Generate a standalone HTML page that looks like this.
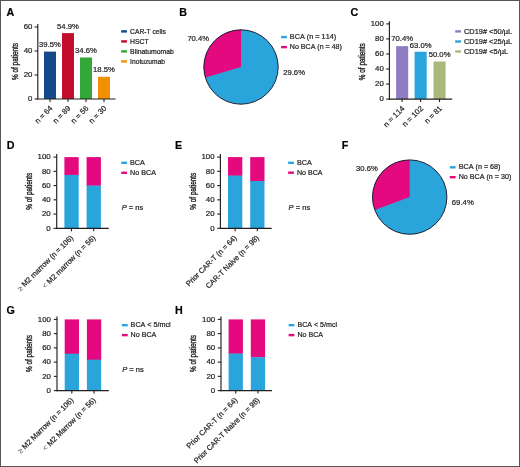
<!DOCTYPE html>
<html><head><meta charset="utf-8"><title>Figure</title>
<style>
html,body{margin:0;padding:0;background:#fff;}
#fig{position:relative;width:520px;height:467px;overflow:hidden;background:#fff;}
#fig svg{position:absolute;left:0;top:0;display:block;font-family:"Liberation Sans",sans-serif;fill:#231f20;}
#fig svg text{stroke:#231f20;stroke-width:0.22px;font-kerning:none;}
#fig svg text.yl{stroke-width:0.38px;}
#fig svg tspan.sym{stroke-width:0;fill:#444;}
#frame{position:absolute;left:0;top:0;width:518px;height:465px;border:1px solid #555;}
</style></head><body>
<div id="fig">
<svg width="520" height="467" viewBox="0 0 520 467">
<text x="6.5" y="15.8" font-size="10.7" fill="#000" font-weight="bold">A</text>
<text x="179.2" y="15.6" font-size="10.7" fill="#000" font-weight="bold">B</text>
<text x="350.5" y="16" font-size="10.7" fill="#000" font-weight="bold">C</text>
<text x="6.7" y="149.4" font-size="10.7" fill="#000" font-weight="bold">D</text>
<text x="175.1" y="149.1" font-size="10.7" fill="#000" font-weight="bold">E</text>
<text x="341.8" y="149.1" font-size="10.7" fill="#000" font-weight="bold">F</text>
<text x="6.5" y="314.2" font-size="10.7" fill="#000" font-weight="bold">G</text>
<text x="175.1" y="313.9" font-size="10.7" fill="#000" font-weight="bold">H</text>
<rect x="44.00" y="51.60" width="12.00" height="47.40" fill="#15498a"/>
<text x="50" y="46.8" font-size="7.6" text-anchor="middle" textLength="21.8" lengthAdjust="spacingAndGlyphs">39.5%</text>
<rect x="62.00" y="33.12" width="12.00" height="65.88" fill="#c40d2d"/>
<text x="68" y="28.5" font-size="7.6" text-anchor="middle" textLength="21.8" lengthAdjust="spacingAndGlyphs">54.9%</text>
<rect x="80.00" y="57.48" width="12.00" height="41.52" fill="#33a738"/>
<text x="86" y="52.7" font-size="7.6" text-anchor="middle" textLength="21.8" lengthAdjust="spacingAndGlyphs">34.6%</text>
<rect x="98.00" y="76.80" width="12.00" height="22.20" fill="#f29105"/>
<text x="104" y="72.0" font-size="7.6" text-anchor="middle" textLength="21.8" lengthAdjust="spacingAndGlyphs">18.5%</text>
<line x1="37.80" y1="24.00" x2="37.80" y2="99.55" stroke="#231f20" stroke-width="1.15"/>
<line x1="37.25" y1="99.00" x2="115.60" y2="99.00" stroke="#231f20" stroke-width="1.15"/>
<line x1="34.60" y1="99.00" x2="37.80" y2="99.00" stroke="#231f20" stroke-width="1.1"/>
<text x="32.4" y="101.35" font-size="7.5" text-anchor="end" textLength="4.37" lengthAdjust="spacingAndGlyphs">0</text>
<line x1="34.60" y1="75.00" x2="37.80" y2="75.00" stroke="#231f20" stroke-width="1.1"/>
<text x="32.4" y="77.35" font-size="7.5" text-anchor="end" textLength="8.74" lengthAdjust="spacingAndGlyphs">20</text>
<line x1="34.60" y1="51.00" x2="37.80" y2="51.00" stroke="#231f20" stroke-width="1.1"/>
<text x="32.4" y="53.35" font-size="7.5" text-anchor="end" textLength="8.74" lengthAdjust="spacingAndGlyphs">40</text>
<line x1="34.60" y1="27.00" x2="37.80" y2="27.00" stroke="#231f20" stroke-width="1.1"/>
<text x="32.4" y="29.35" font-size="7.5" text-anchor="end" textLength="8.74" lengthAdjust="spacingAndGlyphs">60</text>
<line x1="50.00" y1="99.00" x2="50.00" y2="102.00" stroke="#231f20" stroke-width="1.1"/>
<line x1="68.00" y1="99.00" x2="68.00" y2="102.00" stroke="#231f20" stroke-width="1.1"/>
<line x1="86.00" y1="99.00" x2="86.00" y2="102.00" stroke="#231f20" stroke-width="1.1"/>
<line x1="104.00" y1="99.00" x2="104.00" y2="102.00" stroke="#231f20" stroke-width="1.1"/>
<text x="18.4" y="61.5" font-size="8.8" text-anchor="middle" transform="rotate(-90 18.4 61.5)" textLength="37" lengthAdjust="spacingAndGlyphs" class="yl">% of patients</text>
<text x="53.1" y="108.8" font-size="7.6" text-anchor="end" transform="rotate(-45 53.1 108.8)" textLength="21.33" lengthAdjust="spacingAndGlyphs">n = 64</text>
<text x="71.1" y="108.8" font-size="7.6" text-anchor="end" transform="rotate(-45 71.1 108.8)" textLength="21.33" lengthAdjust="spacingAndGlyphs">n = 89</text>
<text x="89.1" y="108.8" font-size="7.6" text-anchor="end" transform="rotate(-45 89.1 108.8)" textLength="21.33" lengthAdjust="spacingAndGlyphs">n = 56</text>
<text x="107.1" y="108.8" font-size="7.6" text-anchor="end" transform="rotate(-45 107.1 108.8)" textLength="21.33" lengthAdjust="spacingAndGlyphs">n = 30</text>
<rect x="121.20" y="30.20" width="5.80" height="2.40" fill="#15498a"/>
<text x="130.1" y="33.5" font-size="6.8" textLength="35.8" lengthAdjust="spacingAndGlyphs">CAR-T cells</text>
<rect x="121.20" y="40.20" width="5.80" height="2.40" fill="#c40d2d"/>
<text x="130.1" y="43.5" font-size="6.8" textLength="18.6" lengthAdjust="spacingAndGlyphs">HSCT</text>
<rect x="121.20" y="50.20" width="5.80" height="2.40" fill="#33a738"/>
<text x="130.1" y="53.5" font-size="6.8" textLength="43.7" lengthAdjust="spacingAndGlyphs">Blinatumomab</text>
<rect x="121.20" y="60.20" width="5.80" height="2.40" fill="#f29105"/>
<text x="130.1" y="63.5" font-size="6.8" textLength="35" lengthAdjust="spacingAndGlyphs">Inotuzumab</text>
<circle cx="241.0" cy="67.0" r="37.2" fill="#2aa5dc"/>
<path d="M241.0 67.0 L241.0 29.799999999999997 A37.2 37.2 0 0 0 205.34 77.60 Z" fill="#e5097f"/>
<circle cx="241.0" cy="67.0" r="37.2" fill="none" stroke="#16162a" stroke-width="0.95"/>
<text x="187.4" y="40.9" font-size="7.6" textLength="21.6" lengthAdjust="spacingAndGlyphs">70.4%</text>
<text x="283.2" y="74.9" font-size="7.6" textLength="21.8" lengthAdjust="spacingAndGlyphs">29.6%</text>
<rect x="281.10" y="35.90" width="5.80" height="2.40" fill="#2aa5dc"/>
<text x="289.8" y="39.2" font-size="7.1" textLength="46.4" lengthAdjust="spacingAndGlyphs">BCA (n = 114)</text>
<rect x="281.10" y="45.90" width="5.80" height="2.40" fill="#e5097f"/>
<text x="289.8" y="49.2" font-size="7.1" textLength="52.1" lengthAdjust="spacingAndGlyphs">No BCA (n = 48)</text>
<rect x="396.10" y="46.16" width="12.10" height="52.94" fill="#8f7cc3"/>
<text x="402.20000000000005" y="41.0" font-size="7.6" text-anchor="middle" textLength="21.8" lengthAdjust="spacingAndGlyphs">70.4%</text>
<rect x="414.60" y="51.72" width="12.10" height="47.38" fill="#2aa5dc"/>
<text x="420.70000000000005" y="47.5" font-size="7.6" text-anchor="middle" textLength="21.8" lengthAdjust="spacingAndGlyphs">63.0%</text>
<rect x="433.50" y="61.50" width="12.10" height="37.60" fill="#a9b97c"/>
<text x="439.6" y="56.9" font-size="7.6" text-anchor="middle" textLength="21.8" lengthAdjust="spacingAndGlyphs">50.0%</text>
<line x1="389.40" y1="21.30" x2="389.40" y2="99.65" stroke="#231f20" stroke-width="1.15"/>
<line x1="388.85" y1="99.10" x2="452.20" y2="99.10" stroke="#231f20" stroke-width="1.15"/>
<line x1="386.20" y1="99.10" x2="389.40" y2="99.10" stroke="#231f20" stroke-width="1.1"/>
<text x="383.8" y="101.45" font-size="7.5" text-anchor="end" textLength="4.37" lengthAdjust="spacingAndGlyphs">0</text>
<line x1="386.20" y1="84.06" x2="389.40" y2="84.06" stroke="#231f20" stroke-width="1.1"/>
<text x="383.8" y="86.41" font-size="7.5" text-anchor="end" textLength="8.74" lengthAdjust="spacingAndGlyphs">20</text>
<line x1="386.20" y1="69.02" x2="389.40" y2="69.02" stroke="#231f20" stroke-width="1.1"/>
<text x="383.8" y="71.37" font-size="7.5" text-anchor="end" textLength="8.74" lengthAdjust="spacingAndGlyphs">40</text>
<line x1="386.20" y1="53.98" x2="389.40" y2="53.98" stroke="#231f20" stroke-width="1.1"/>
<text x="383.8" y="56.33" font-size="7.5" text-anchor="end" textLength="8.74" lengthAdjust="spacingAndGlyphs">60</text>
<line x1="386.20" y1="38.94" x2="389.40" y2="38.94" stroke="#231f20" stroke-width="1.1"/>
<text x="383.8" y="41.29" font-size="7.5" text-anchor="end" textLength="8.74" lengthAdjust="spacingAndGlyphs">80</text>
<line x1="386.20" y1="23.90" x2="389.40" y2="23.90" stroke="#231f20" stroke-width="1.1"/>
<text x="383.8" y="26.25" font-size="7.5" text-anchor="end" textLength="13.11" lengthAdjust="spacingAndGlyphs">100</text>
<line x1="402.10" y1="99.10" x2="402.10" y2="102.10" stroke="#231f20" stroke-width="1.1"/>
<line x1="420.60" y1="99.10" x2="420.60" y2="102.10" stroke="#231f20" stroke-width="1.1"/>
<line x1="439.50" y1="99.10" x2="439.50" y2="102.10" stroke="#231f20" stroke-width="1.1"/>
<text x="364.8" y="61.7" font-size="8.8" text-anchor="middle" transform="rotate(-90 364.8 61.7)" textLength="37" lengthAdjust="spacingAndGlyphs" class="yl">% of patients</text>
<text x="405.2" y="108.9" font-size="7.6" text-anchor="end" transform="rotate(-45 405.2 108.9)" textLength="26.6" lengthAdjust="spacingAndGlyphs">n = 114</text>
<text x="423.7" y="108.9" font-size="7.6" text-anchor="end" transform="rotate(-45 423.7 108.9)" textLength="26.0" lengthAdjust="spacingAndGlyphs">n = 102</text>
<text x="442.6" y="108.9" font-size="7.6" text-anchor="end" transform="rotate(-45 442.6 108.9)" textLength="21.33" lengthAdjust="spacingAndGlyphs">n = 81</text>
<rect x="455.20" y="30.20" width="5.80" height="2.40" fill="#8f7cc3"/>
<text x="463.9" y="33.7" font-size="7.1" textLength="48.3" lengthAdjust="spacingAndGlyphs">CD19# &lt;50/µL</text>
<rect x="455.20" y="40.30" width="5.80" height="2.40" fill="#2aa5dc"/>
<text x="463.9" y="43.8" font-size="7.1" textLength="48.3" lengthAdjust="spacingAndGlyphs">CD19# &lt;25/µL</text>
<rect x="455.20" y="50.30" width="5.80" height="2.40" fill="#a9b97c"/>
<text x="463.9" y="53.8" font-size="7.1" textLength="44.3" lengthAdjust="spacingAndGlyphs">CD19# &lt;5/µL</text>
<rect x="64.40" y="157.10" width="14.30" height="18.10" fill="#e5097f"/>
<rect x="64.40" y="174.90" width="14.30" height="53.40" fill="#2aa5dc"/>
<rect x="86.60" y="157.10" width="14.30" height="28.78" fill="#e5097f"/>
<rect x="86.60" y="185.58" width="14.30" height="42.72" fill="#2aa5dc"/>
<line x1="56.70" y1="154.10" x2="56.70" y2="228.85" stroke="#231f20" stroke-width="1.15"/>
<line x1="56.15" y1="228.30" x2="108.80" y2="228.30" stroke="#231f20" stroke-width="1.15"/>
<line x1="53.50" y1="228.30" x2="56.70" y2="228.30" stroke="#231f20" stroke-width="1.1"/>
<text x="50.7" y="230.65" font-size="7.5" text-anchor="end" textLength="4.37" lengthAdjust="spacingAndGlyphs">0</text>
<line x1="53.50" y1="214.06" x2="56.70" y2="214.06" stroke="#231f20" stroke-width="1.1"/>
<text x="50.7" y="216.41" font-size="7.5" text-anchor="end" textLength="8.74" lengthAdjust="spacingAndGlyphs">20</text>
<line x1="53.50" y1="199.82" x2="56.70" y2="199.82" stroke="#231f20" stroke-width="1.1"/>
<text x="50.7" y="202.17" font-size="7.5" text-anchor="end" textLength="8.74" lengthAdjust="spacingAndGlyphs">40</text>
<line x1="53.50" y1="185.58" x2="56.70" y2="185.58" stroke="#231f20" stroke-width="1.1"/>
<text x="50.7" y="187.93" font-size="7.5" text-anchor="end" textLength="8.74" lengthAdjust="spacingAndGlyphs">60</text>
<line x1="53.50" y1="171.34" x2="56.70" y2="171.34" stroke="#231f20" stroke-width="1.1"/>
<text x="50.7" y="173.69" font-size="7.5" text-anchor="end" textLength="8.74" lengthAdjust="spacingAndGlyphs">80</text>
<line x1="53.50" y1="157.10" x2="56.70" y2="157.10" stroke="#231f20" stroke-width="1.1"/>
<text x="50.7" y="159.45" font-size="7.5" text-anchor="end" textLength="13.11" lengthAdjust="spacingAndGlyphs">100</text>
<line x1="71.50" y1="228.30" x2="71.50" y2="231.30" stroke="#231f20" stroke-width="1.1"/>
<line x1="93.70" y1="228.30" x2="93.70" y2="231.30" stroke="#231f20" stroke-width="1.1"/>
<text x="32" y="191.2" font-size="8.8" text-anchor="middle" transform="rotate(-90 32 191.2)" textLength="37" lengthAdjust="spacingAndGlyphs" class="yl">% of patients</text>
<text x="73.7" y="238.4" font-size="7.6" text-anchor="end" transform="rotate(-45 73.7 238.4)" textLength="75.4" lengthAdjust="spacingAndGlyphs"><tspan class="sym">≥</tspan> M2 marrow (n = 106)</text>
<text x="95.9" y="238.4" font-size="7.6" text-anchor="end" transform="rotate(-45 95.9 238.4)" textLength="71.5" lengthAdjust="spacingAndGlyphs"><tspan class="sym">&lt;</tspan> M2 marrow (n = 56)</text>
<rect x="121.30" y="161.60" width="5.80" height="2.40" fill="#2aa5dc"/>
<text x="130" y="164.7" font-size="7.1" textLength="14.9" lengthAdjust="spacingAndGlyphs">BCA</text>
<rect x="121.30" y="171.60" width="5.80" height="2.40" fill="#e5097f"/>
<text x="130" y="174.7" font-size="7.1" textLength="26" lengthAdjust="spacingAndGlyphs">No BCA</text>
<text x="121.7" y="209.6" font-size="7.5" textLength="21.6" lengthAdjust="spacingAndGlyphs"><tspan font-style="italic">P</tspan> = ns</text>
<rect x="228.00" y="157.10" width="14.30" height="18.81" fill="#e5097f"/>
<rect x="228.00" y="175.61" width="14.30" height="52.69" fill="#2aa5dc"/>
<rect x="250.20" y="157.10" width="14.30" height="24.22" fill="#e5097f"/>
<rect x="250.20" y="181.02" width="14.30" height="47.28" fill="#2aa5dc"/>
<line x1="220.40" y1="154.10" x2="220.40" y2="228.85" stroke="#231f20" stroke-width="1.15"/>
<line x1="219.85" y1="228.30" x2="271.70" y2="228.30" stroke="#231f20" stroke-width="1.15"/>
<line x1="217.20" y1="228.30" x2="220.40" y2="228.30" stroke="#231f20" stroke-width="1.1"/>
<text x="214.6" y="230.65" font-size="7.5" text-anchor="end" textLength="4.37" lengthAdjust="spacingAndGlyphs">0</text>
<line x1="217.20" y1="214.06" x2="220.40" y2="214.06" stroke="#231f20" stroke-width="1.1"/>
<text x="214.6" y="216.41" font-size="7.5" text-anchor="end" textLength="8.74" lengthAdjust="spacingAndGlyphs">20</text>
<line x1="217.20" y1="199.82" x2="220.40" y2="199.82" stroke="#231f20" stroke-width="1.1"/>
<text x="214.6" y="202.17" font-size="7.5" text-anchor="end" textLength="8.74" lengthAdjust="spacingAndGlyphs">40</text>
<line x1="217.20" y1="185.58" x2="220.40" y2="185.58" stroke="#231f20" stroke-width="1.1"/>
<text x="214.6" y="187.93" font-size="7.5" text-anchor="end" textLength="8.74" lengthAdjust="spacingAndGlyphs">60</text>
<line x1="217.20" y1="171.34" x2="220.40" y2="171.34" stroke="#231f20" stroke-width="1.1"/>
<text x="214.6" y="173.69" font-size="7.5" text-anchor="end" textLength="8.74" lengthAdjust="spacingAndGlyphs">80</text>
<line x1="217.20" y1="157.10" x2="220.40" y2="157.10" stroke="#231f20" stroke-width="1.1"/>
<text x="214.6" y="159.45" font-size="7.5" text-anchor="end" textLength="13.11" lengthAdjust="spacingAndGlyphs">100</text>
<line x1="235.10" y1="228.30" x2="235.10" y2="231.30" stroke="#231f20" stroke-width="1.1"/>
<line x1="257.30" y1="228.30" x2="257.30" y2="231.30" stroke="#231f20" stroke-width="1.1"/>
<text x="196.1" y="191.2" font-size="8.8" text-anchor="middle" transform="rotate(-90 196.1 191.2)" textLength="37" lengthAdjust="spacingAndGlyphs" class="yl">% of patients</text>
<text x="237.3" y="238.4" font-size="7.6" text-anchor="end" transform="rotate(-45 237.3 238.4)" textLength="68.4" lengthAdjust="spacingAndGlyphs">Prior CAR-T (n = 64)</text>
<text x="259.5" y="238.4" font-size="7.6" text-anchor="end" transform="rotate(-45 259.5 238.4)" textLength="71.7" lengthAdjust="spacingAndGlyphs">CAR-T Naive (n = 98)</text>
<rect x="288.10" y="161.60" width="5.80" height="2.40" fill="#2aa5dc"/>
<text x="297" y="164.7" font-size="7.1" textLength="14.9" lengthAdjust="spacingAndGlyphs">BCA</text>
<rect x="288.10" y="171.50" width="5.80" height="2.40" fill="#e5097f"/>
<text x="297" y="174.6" font-size="7.1" textLength="25.6" lengthAdjust="spacingAndGlyphs">No BCA</text>
<text x="288.6" y="209.6" font-size="7.5" textLength="21.6" lengthAdjust="spacingAndGlyphs"><tspan font-style="italic">P</tspan> = ns</text>
<rect x="64.70" y="319.40" width="14.30" height="34.62" fill="#e5097f"/>
<rect x="64.70" y="353.72" width="14.30" height="36.88" fill="#2aa5dc"/>
<rect x="86.90" y="319.40" width="14.30" height="40.60" fill="#e5097f"/>
<rect x="86.90" y="359.70" width="14.30" height="30.90" fill="#2aa5dc"/>
<line x1="57.00" y1="316.40" x2="57.00" y2="391.15" stroke="#231f20" stroke-width="1.15"/>
<line x1="56.45" y1="390.60" x2="108.80" y2="390.60" stroke="#231f20" stroke-width="1.15"/>
<line x1="53.80" y1="390.60" x2="57.00" y2="390.60" stroke="#231f20" stroke-width="1.1"/>
<text x="51.0" y="392.95" font-size="7.5" text-anchor="end" textLength="4.37" lengthAdjust="spacingAndGlyphs">0</text>
<line x1="53.80" y1="376.36" x2="57.00" y2="376.36" stroke="#231f20" stroke-width="1.1"/>
<text x="51.0" y="378.71" font-size="7.5" text-anchor="end" textLength="8.74" lengthAdjust="spacingAndGlyphs">20</text>
<line x1="53.80" y1="362.12" x2="57.00" y2="362.12" stroke="#231f20" stroke-width="1.1"/>
<text x="51.0" y="364.47" font-size="7.5" text-anchor="end" textLength="8.74" lengthAdjust="spacingAndGlyphs">40</text>
<line x1="53.80" y1="347.88" x2="57.00" y2="347.88" stroke="#231f20" stroke-width="1.1"/>
<text x="51.0" y="350.23" font-size="7.5" text-anchor="end" textLength="8.74" lengthAdjust="spacingAndGlyphs">60</text>
<line x1="53.80" y1="333.64" x2="57.00" y2="333.64" stroke="#231f20" stroke-width="1.1"/>
<text x="51.0" y="335.99" font-size="7.5" text-anchor="end" textLength="8.74" lengthAdjust="spacingAndGlyphs">80</text>
<line x1="53.80" y1="319.40" x2="57.00" y2="319.40" stroke="#231f20" stroke-width="1.1"/>
<text x="51.0" y="321.75" font-size="7.5" text-anchor="end" textLength="13.11" lengthAdjust="spacingAndGlyphs">100</text>
<line x1="71.80" y1="390.60" x2="71.80" y2="393.60" stroke="#231f20" stroke-width="1.1"/>
<line x1="94.00" y1="390.60" x2="94.00" y2="393.60" stroke="#231f20" stroke-width="1.1"/>
<text x="32.1" y="353.5" font-size="8.8" text-anchor="middle" transform="rotate(-90 32.1 353.5)" textLength="37" lengthAdjust="spacingAndGlyphs" class="yl">% of patients</text>
<text x="74.0" y="400.7" font-size="7.6" text-anchor="end" transform="rotate(-45 74.0 400.7)" textLength="75.4" lengthAdjust="spacingAndGlyphs"><tspan class="sym">≥</tspan> M2 Marrow (n = 106)</text>
<text x="96.2" y="400.7" font-size="7.6" text-anchor="end" transform="rotate(-45 96.2 400.7)" textLength="71.5" lengthAdjust="spacingAndGlyphs"><tspan class="sym">&lt;</tspan> M2 Marrow (n = 56)</text>
<rect x="121.90" y="324.00" width="5.80" height="2.40" fill="#2aa5dc"/>
<text x="130.6" y="327.1" font-size="7.1" textLength="40.1" lengthAdjust="spacingAndGlyphs">BCA &lt; 5/mcl</text>
<rect x="121.90" y="333.90" width="5.80" height="2.40" fill="#e5097f"/>
<text x="130.6" y="337.0" font-size="7.1" textLength="25.7" lengthAdjust="spacingAndGlyphs">No BCA</text>
<text x="122.2" y="371.8" font-size="7.5" textLength="21.6" lengthAdjust="spacingAndGlyphs"><tspan font-style="italic">P</tspan> = ns</text>
<rect x="228.60" y="319.40" width="14.30" height="34.48" fill="#e5097f"/>
<rect x="228.60" y="353.58" width="14.30" height="37.02" fill="#2aa5dc"/>
<rect x="250.80" y="319.40" width="14.30" height="38.04" fill="#e5097f"/>
<rect x="250.80" y="357.14" width="14.30" height="33.46" fill="#2aa5dc"/>
<line x1="221.00" y1="316.40" x2="221.00" y2="391.15" stroke="#231f20" stroke-width="1.15"/>
<line x1="220.45" y1="390.60" x2="272.00" y2="390.60" stroke="#231f20" stroke-width="1.15"/>
<line x1="217.80" y1="390.60" x2="221.00" y2="390.60" stroke="#231f20" stroke-width="1.1"/>
<text x="215.2" y="392.95" font-size="7.5" text-anchor="end" textLength="4.37" lengthAdjust="spacingAndGlyphs">0</text>
<line x1="217.80" y1="376.36" x2="221.00" y2="376.36" stroke="#231f20" stroke-width="1.1"/>
<text x="215.2" y="378.71" font-size="7.5" text-anchor="end" textLength="8.74" lengthAdjust="spacingAndGlyphs">20</text>
<line x1="217.80" y1="362.12" x2="221.00" y2="362.12" stroke="#231f20" stroke-width="1.1"/>
<text x="215.2" y="364.47" font-size="7.5" text-anchor="end" textLength="8.74" lengthAdjust="spacingAndGlyphs">40</text>
<line x1="217.80" y1="347.88" x2="221.00" y2="347.88" stroke="#231f20" stroke-width="1.1"/>
<text x="215.2" y="350.23" font-size="7.5" text-anchor="end" textLength="8.74" lengthAdjust="spacingAndGlyphs">60</text>
<line x1="217.80" y1="333.64" x2="221.00" y2="333.64" stroke="#231f20" stroke-width="1.1"/>
<text x="215.2" y="335.99" font-size="7.5" text-anchor="end" textLength="8.74" lengthAdjust="spacingAndGlyphs">80</text>
<line x1="217.80" y1="319.40" x2="221.00" y2="319.40" stroke="#231f20" stroke-width="1.1"/>
<text x="215.2" y="321.75" font-size="7.5" text-anchor="end" textLength="13.11" lengthAdjust="spacingAndGlyphs">100</text>
<line x1="235.70" y1="390.60" x2="235.70" y2="393.60" stroke="#231f20" stroke-width="1.1"/>
<line x1="257.90" y1="390.60" x2="257.90" y2="393.60" stroke="#231f20" stroke-width="1.1"/>
<text x="196.2" y="353.5" font-size="8.8" text-anchor="middle" transform="rotate(-90 196.2 353.5)" textLength="37" lengthAdjust="spacingAndGlyphs" class="yl">% of patients</text>
<text x="237.9" y="400.7" font-size="7.6" text-anchor="end" transform="rotate(-45 237.9 400.7)" textLength="68.4" lengthAdjust="spacingAndGlyphs">Prior CAR-T (n = 64)</text>
<text x="260.1" y="400.7" font-size="7.6" text-anchor="end" transform="rotate(-45 260.1 400.7)" textLength="89.3" lengthAdjust="spacingAndGlyphs">Prior CAR-T Naive (n = 98)</text>
<rect x="288.60" y="324.00" width="5.80" height="2.40" fill="#2aa5dc"/>
<text x="297.4" y="327.1" font-size="7.1" textLength="39.7" lengthAdjust="spacingAndGlyphs">BCA &lt; 5/mcl</text>
<rect x="288.60" y="333.90" width="5.80" height="2.40" fill="#e5097f"/>
<text x="297.4" y="337.0" font-size="7.1" textLength="25.7" lengthAdjust="spacingAndGlyphs">No BCA</text>
<circle cx="409.7" cy="197.1" r="37.2" fill="#2aa5dc"/>
<path d="M409.7 197.1 L409.7 159.89999999999998 A37.2 37.2 0 0 0 374.78 209.92 Z" fill="#e5097f"/>
<circle cx="409.7" cy="197.1" r="37.2" fill="none" stroke="#16162a" stroke-width="0.95"/>
<text x="356" y="170.7" font-size="7.6" textLength="21.7" lengthAdjust="spacingAndGlyphs">30.6%</text>
<text x="451.8" y="204.8" font-size="7.6" textLength="22" lengthAdjust="spacingAndGlyphs">69.4%</text>
<rect x="449.80" y="166.10" width="5.80" height="2.40" fill="#2aa5dc"/>
<text x="458.7" y="169.4" font-size="7.1" textLength="41.8" lengthAdjust="spacingAndGlyphs">BCA (n = 68)</text>
<rect x="449.80" y="176.00" width="5.80" height="2.40" fill="#e5097f"/>
<text x="458.7" y="179.3" font-size="7.1" textLength="52.6" lengthAdjust="spacingAndGlyphs">No BCA (n = 30)</text>
</svg>
<div id="frame"></div>
</div>
</body></html>
